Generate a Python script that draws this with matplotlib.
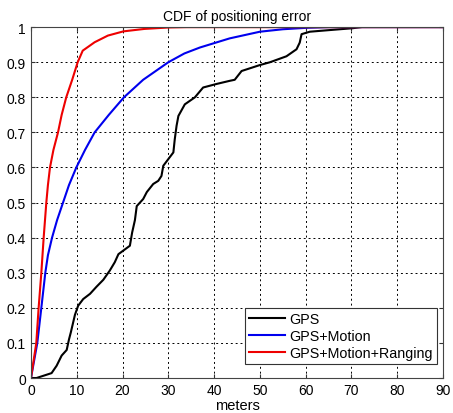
import numpy as np
import matplotlib
matplotlib.use("Agg")
import matplotlib.pyplot as plt

plt.rcParams['font.family'] = ['Liberation Sans', 'DejaVu Sans']

# ------------------------------
# CDF curves (meters, cumulative probability)
# ------------------------------
gps_x = [0, 1.2, 4.5, 5.6, 6.7, 7.8, 8.3, 8.7, 9.6, 10.3, 11.4, 12.9, 14.3, 15.8,
         17.2, 18.3, 19.1, 21.6, 22.1, 22.7, 23.1, 24.5, 25.3, 26.7, 27.8, 28.5,
         28.9, 30.0, 31.1, 31.4, 31.8, 32.2, 33.6, 35.8, 37.6, 40.5, 43.4, 44.5,
         46.0, 50.0, 52.2, 55.8, 58.0, 58.7, 59.1, 60.9, 64.6, 70.3, 72.0]
gps_y = [0, 0, 0.014, 0.035, 0.064, 0.08, 0.11, 0.13, 0.18, 0.206, 0.225, 0.24,
         0.26, 0.28, 0.306, 0.33, 0.353, 0.377, 0.415, 0.45, 0.49, 0.51, 0.53,
         0.553, 0.562, 0.576, 0.605, 0.624, 0.643, 0.68, 0.719, 0.747, 0.78, 0.80,
         0.828, 0.838, 0.847, 0.850, 0.875, 0.892, 0.90, 0.917, 0.937, 0.956, 0.98,
         0.987, 0.991, 0.997, 1.0]

motion_x = [0, 1.38, 2.26, 3.13, 3.7, 4.6, 5.7, 7.0, 8.3, 9.9, 11.8, 13.9, 17.0,
            20.3, 24.5, 30.0, 33.5, 36.9, 43.4, 50.0, 55.0, 60.0, 65.0, 90.0]
motion_y = [0, 0.1, 0.2, 0.3, 0.35, 0.4, 0.45, 0.5, 0.55, 0.6, 0.65, 0.7, 0.75,
            0.8, 0.85, 0.9, 0.925, 0.942, 0.968, 0.987, 0.994, 0.998, 1.0, 1.0]

ranging_x = [0, 1.16, 1.67, 2.26, 2.77, 3.35, 3.7, 4.15, 4.9, 5.9, 6.7, 7.7, 9.0,
             10.2, 11.3, 13.9, 16.8, 20.2, 24.8, 30.0, 34.0, 90.0]
ranging_y = [0, 0.1, 0.2, 0.3, 0.4, 0.5, 0.55, 0.6, 0.65, 0.7, 0.75, 0.8, 0.85,
             0.9, 0.933, 0.957, 0.976, 0.988, 0.995, 0.999, 1.0, 1.0]

labels = ["GPS", "GPS+Motion", "GPS+Motion+Ranging"]

fig = plt.figure(figsize=(4.53, 4.14), dpi=100)
ax = fig.add_axes([0.0684, 0.0845, 0.9096, 0.8475])

ax.plot(gps_x, gps_y, color='black', lw=1.5, label=labels[0])
ax.plot(motion_x, motion_y, color='#0000ee', lw=1.5, label=labels[1])
ax.plot(ranging_x, ranging_y, color='#ee0000', lw=1.5, label=labels[2])

ax.set_xlim(0, 90)
ax.set_ylim(0, 1)
ax.set_xticks(np.arange(0, 91, 10))
ax.set_yticks(np.arange(0, 1.01, 0.1))
ax.set_yticklabels(["0", "0.1", "0.2", "0.3", "0.4", "0.5", "0.6", "0.7", "0.8", "0.9", "1"])
ax.tick_params(labelsize=10, direction='in', length=3, color='#333333', top=True, right=True)
ax.grid(True, color='black', linestyle=(0, (2, 3)), linewidth=0.7)
for s in ax.spines.values():
    s.set_color('#444444')
    s.set_linewidth(0.8)

ax.set_title("CDF of positioning error", fontsize=10, pad=5)
ax.set_xlabel("meters", fontsize=10.5, labelpad=1)

leg = ax.legend(loc='lower right', bbox_to_anchor=(0.985, 0.04), fontsize=10.3,
                fancybox=False, framealpha=1, edgecolor='#333333',
                handlelength=2.5, borderpad=0.3, labelspacing=0.2,
                handletextpad=0.3, borderaxespad=0)
leg.get_frame().set_linewidth(0.8)

fig.savefig("out.png", dpi=100)
